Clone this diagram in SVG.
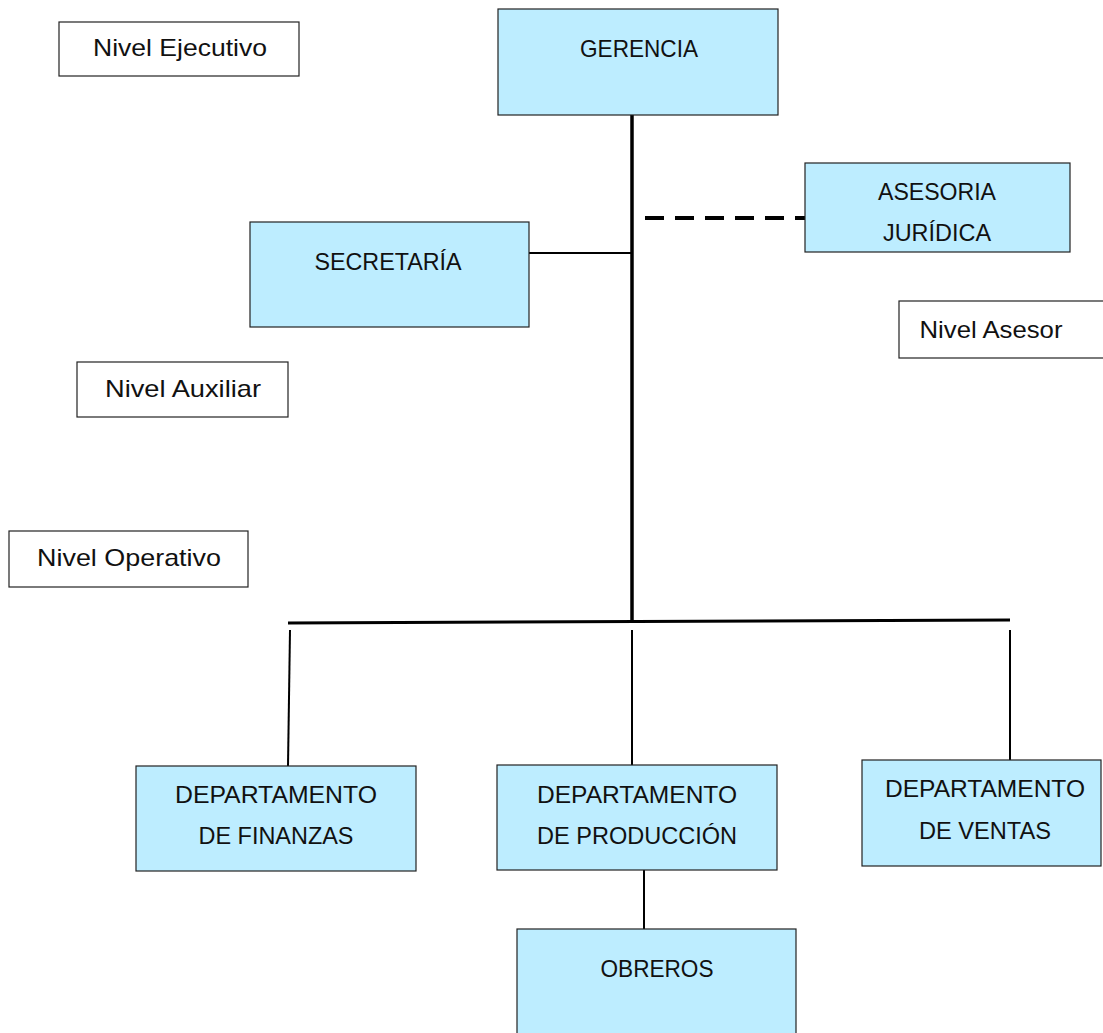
<svg xmlns="http://www.w3.org/2000/svg" width="1103" height="1033" viewBox="0 0 1103 1033">
<style>
.box{fill:#bdedff;stroke:#222;stroke-width:1.2}
.lvl{fill:#fff;stroke:#222;stroke-width:1.2}
text{font-family:"Liberation Sans",Arial,sans-serif;font-size:24px;fill:#111;text-anchor:middle}
.c{stroke:#000;fill:none}
</style>
<rect width="1103" height="1033" fill="#fff"/>
<g id="connectors">
<line class="c" x1="632" y1="115" x2="632" y2="621" stroke-width="3.5"/>
<line class="c" x1="288" y1="623" x2="1010" y2="620" stroke-width="3"/>
<line class="c" x1="529" y1="253" x2="632" y2="253" stroke-width="2"/>
<line class="c" x1="645" y1="218" x2="805" y2="218" stroke-width="4" stroke-dasharray="19 11"/>
<line class="c" x1="290" y1="630" x2="288" y2="766" stroke-width="2"/>
<line class="c" x1="632" y1="630" x2="632" y2="765" stroke-width="2"/>
<line class="c" x1="1010" y1="630" x2="1010" y2="760" stroke-width="2"/>
<line class="c" x1="644" y1="870" x2="644" y2="929" stroke-width="2"/>
</g>
<g id="gerencia"><rect class="box" x="498" y="9" width="280" height="106"/><text x="639" y="57" textLength="118" lengthAdjust="spacingAndGlyphs">GERENCIA</text></g>
<g id="asesoria"><rect class="box" x="805" y="163" width="265" height="89"/><text x="937" y="200" textLength="118" lengthAdjust="spacingAndGlyphs">ASESORIA</text><text x="937" y="241" textLength="108" lengthAdjust="spacingAndGlyphs">JURÍDICA</text></g>
<g id="secretaria"><rect class="box" x="250" y="222" width="279" height="105"/><text x="388" y="270" textLength="147" lengthAdjust="spacingAndGlyphs">SECRETARÍA</text></g>
<g id="finanzas"><rect class="box" x="136" y="766" width="280" height="105"/><text x="276" y="803" textLength="202" lengthAdjust="spacingAndGlyphs">DEPARTAMENTO</text><text x="276" y="844" textLength="155" lengthAdjust="spacingAndGlyphs">DE FINANZAS</text></g>
<g id="produccion"><rect class="box" x="497" y="765" width="280" height="105"/><text x="637" y="803" textLength="200" lengthAdjust="spacingAndGlyphs">DEPARTAMENTO</text><text x="637" y="844" textLength="200" lengthAdjust="spacingAndGlyphs">DE PRODUCCIÓN</text></g>
<g id="ventas"><rect class="box" x="862" y="760" width="239" height="106"/><text x="985" y="797" textLength="200" lengthAdjust="spacingAndGlyphs">DEPARTAMENTO</text><text x="985" y="839" textLength="132" lengthAdjust="spacingAndGlyphs">DE VENTAS</text></g>
<g id="obreros"><rect class="box" x="517" y="929" width="279" height="120"/><text x="657" y="977" textLength="113" lengthAdjust="spacingAndGlyphs">OBREROS</text></g>
<g id="nivel-ejecutivo"><rect class="lvl" x="59" y="22" width="240" height="54"/><text x="180" y="56" textLength="174" lengthAdjust="spacingAndGlyphs">Nivel Ejecutivo</text></g>
<g id="nivel-asesor"><rect class="lvl" x="899" y="301" width="220" height="57"/><text x="991" y="338" textLength="143" lengthAdjust="spacingAndGlyphs">Nivel Asesor</text></g>
<g id="nivel-auxiliar"><rect class="lvl" x="77" y="362" width="211" height="55"/><text x="183" y="397" textLength="156" lengthAdjust="spacingAndGlyphs">Nivel Auxiliar</text></g>
<g id="nivel-operativo"><rect class="lvl" x="9" y="531" width="239" height="56"/><text x="129" y="566" textLength="184" lengthAdjust="spacingAndGlyphs">Nivel Operativo</text></g>
</svg>
